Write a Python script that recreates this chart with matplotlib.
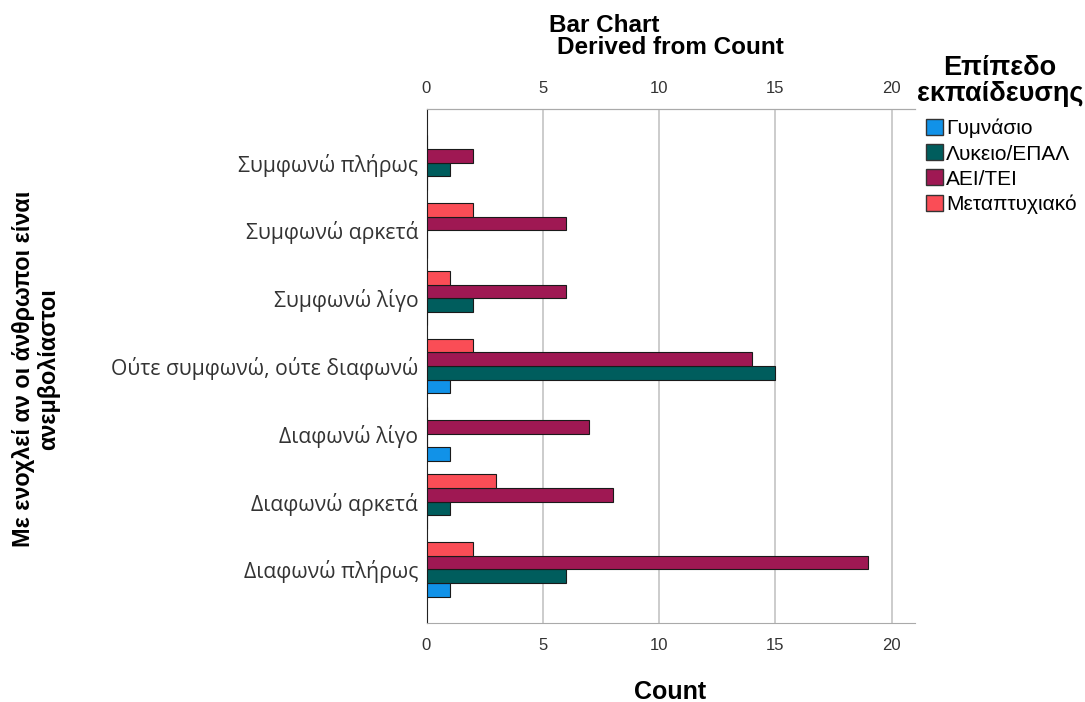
import matplotlib.pyplot as plt
from matplotlib.patches import Patch
import numpy as np

plt.rcParams['font.family'] = ['Liberation Sans', 'DejaVu Sans']

categories = ['Συμφωνώ πλήρως', 'Συμφωνώ αρκετά', 'Συμφωνώ λίγο',
              'Ούτε συμφωνώ, ούτε διαφωνώ', 'Διαφωνώ λίγο',
              'Διαφωνώ αρκετά', 'Διαφωνώ πλήρως']
series_names = ['Γυμνάσιο', 'Λυκειο/ΕΠΑΛ', 'ΑΕΙ/ΤΕΙ', 'Μεταπτυχιακό']
gymnasio = [0, 0, 0, 1, 1, 0, 1]
lykeio = [1, 0, 2, 15, 0, 1, 6]
aei = [2, 6, 6, 14, 7, 8, 19]
metapt = [0, 2, 1, 2, 0, 3, 2]
colors = ['#1192e8', '#005d5d', '#9f1853', '#fa4d56']
xticks = [0, 5, 10, 15, 20]

W, H = 1085, 702
fig = plt.figure(figsize=(W / 100, H / 100), dpi=100)
ax = fig.add_axes([426.5 / W, 1 - 623 / H, (915 - 426.5) / W, (623 - 109) / H])

y = np.arange(len(categories))
h = 0.2
series = [gymnasio, lykeio, aei, metapt]
# bottom to top inside each group: Γυμνάσιο ... Μεταπτυχιακό
offsets = [1.5 * h, 0.5 * h, -0.5 * h, -1.5 * h]
for vals, off, c in zip(series, offsets, colors):
    ax.barh(y + off, vals, height=h, color=c, edgecolor='#1a1a1a', linewidth=0.8, zorder=3)

ax.set_ylim(6.79, -0.79)
ax.set_xlim(0, 21)
ax.set_yticks(y)
ax.set_yticklabels(categories, fontsize=15.2, color='#333333', family=['Open Sans', 'DejaVu Sans'])
ax.set_xticks(xticks)
ax.tick_params(axis='x', length=0, labelsize=12, pad=11, colors='#333333')
ax.tick_params(axis='y', length=0, pad=6)
top = ax.secondary_xaxis('top')
top.set_xticks(xticks)
top.tick_params(length=0, labelsize=12, pad=9, colors='#333333')
top.spines['top'].set_color('#aaaaaa')
ax.grid(axis='x', color='#c8c8c8', linewidth=1.3, zorder=0)
ax.spines['right'].set_visible(False)
ax.spines['left'].set_color('#222222')
ax.spines['top'].set_color('#aaaaaa')
ax.spines['bottom'].set_color('#aaaaaa')

fig.text(670 / W, 1 - 692 / H, 'Count', ha='center', va='center',
         fontsize=18, fontweight='bold')
fig.text(604 / W, 1 - 25 / H, 'Bar Chart', ha='center', va='center',
         fontsize=17.5, fontweight='bold')
fig.text(670 / W, 1 - 47 / H, 'Derived from Count', ha='center', va='center',
         fontsize=17.5, fontweight='bold')
fig.text(36 / W, 1 - 369 / H, 'Με ενοχλεί αν οι άνθρωποι είναι\nανεμβολίαστοι',
         rotation=90, ha='center', va='center', multialignment='center',
         fontsize=16.8, fontweight='bold', linespacing=1.1)

# legend title drawn separately so the gap to the entries matches
fig.text(1000 / W, 1 - 81 / H, 'Επίπεδο\nεκπαίδευσης', ha='center', va='center',
         multialignment='center', fontsize=19.5, fontweight='bold', linespacing=1.0)
handles = [Patch(facecolor=c, edgecolor='#333333', label=n) for c, n in zip(colors, series_names)]
leg = fig.legend(handles=handles, loc='upper left',
                 bbox_to_anchor=(926 / W, 1 - 119 / H), frameon=False, fontsize=15,
                 handlelength=0.8, handleheight=0.8, handletextpad=0.15,
                 labelspacing=0.28, borderaxespad=0, borderpad=0)

fig.savefig('out.png', dpi=100)
